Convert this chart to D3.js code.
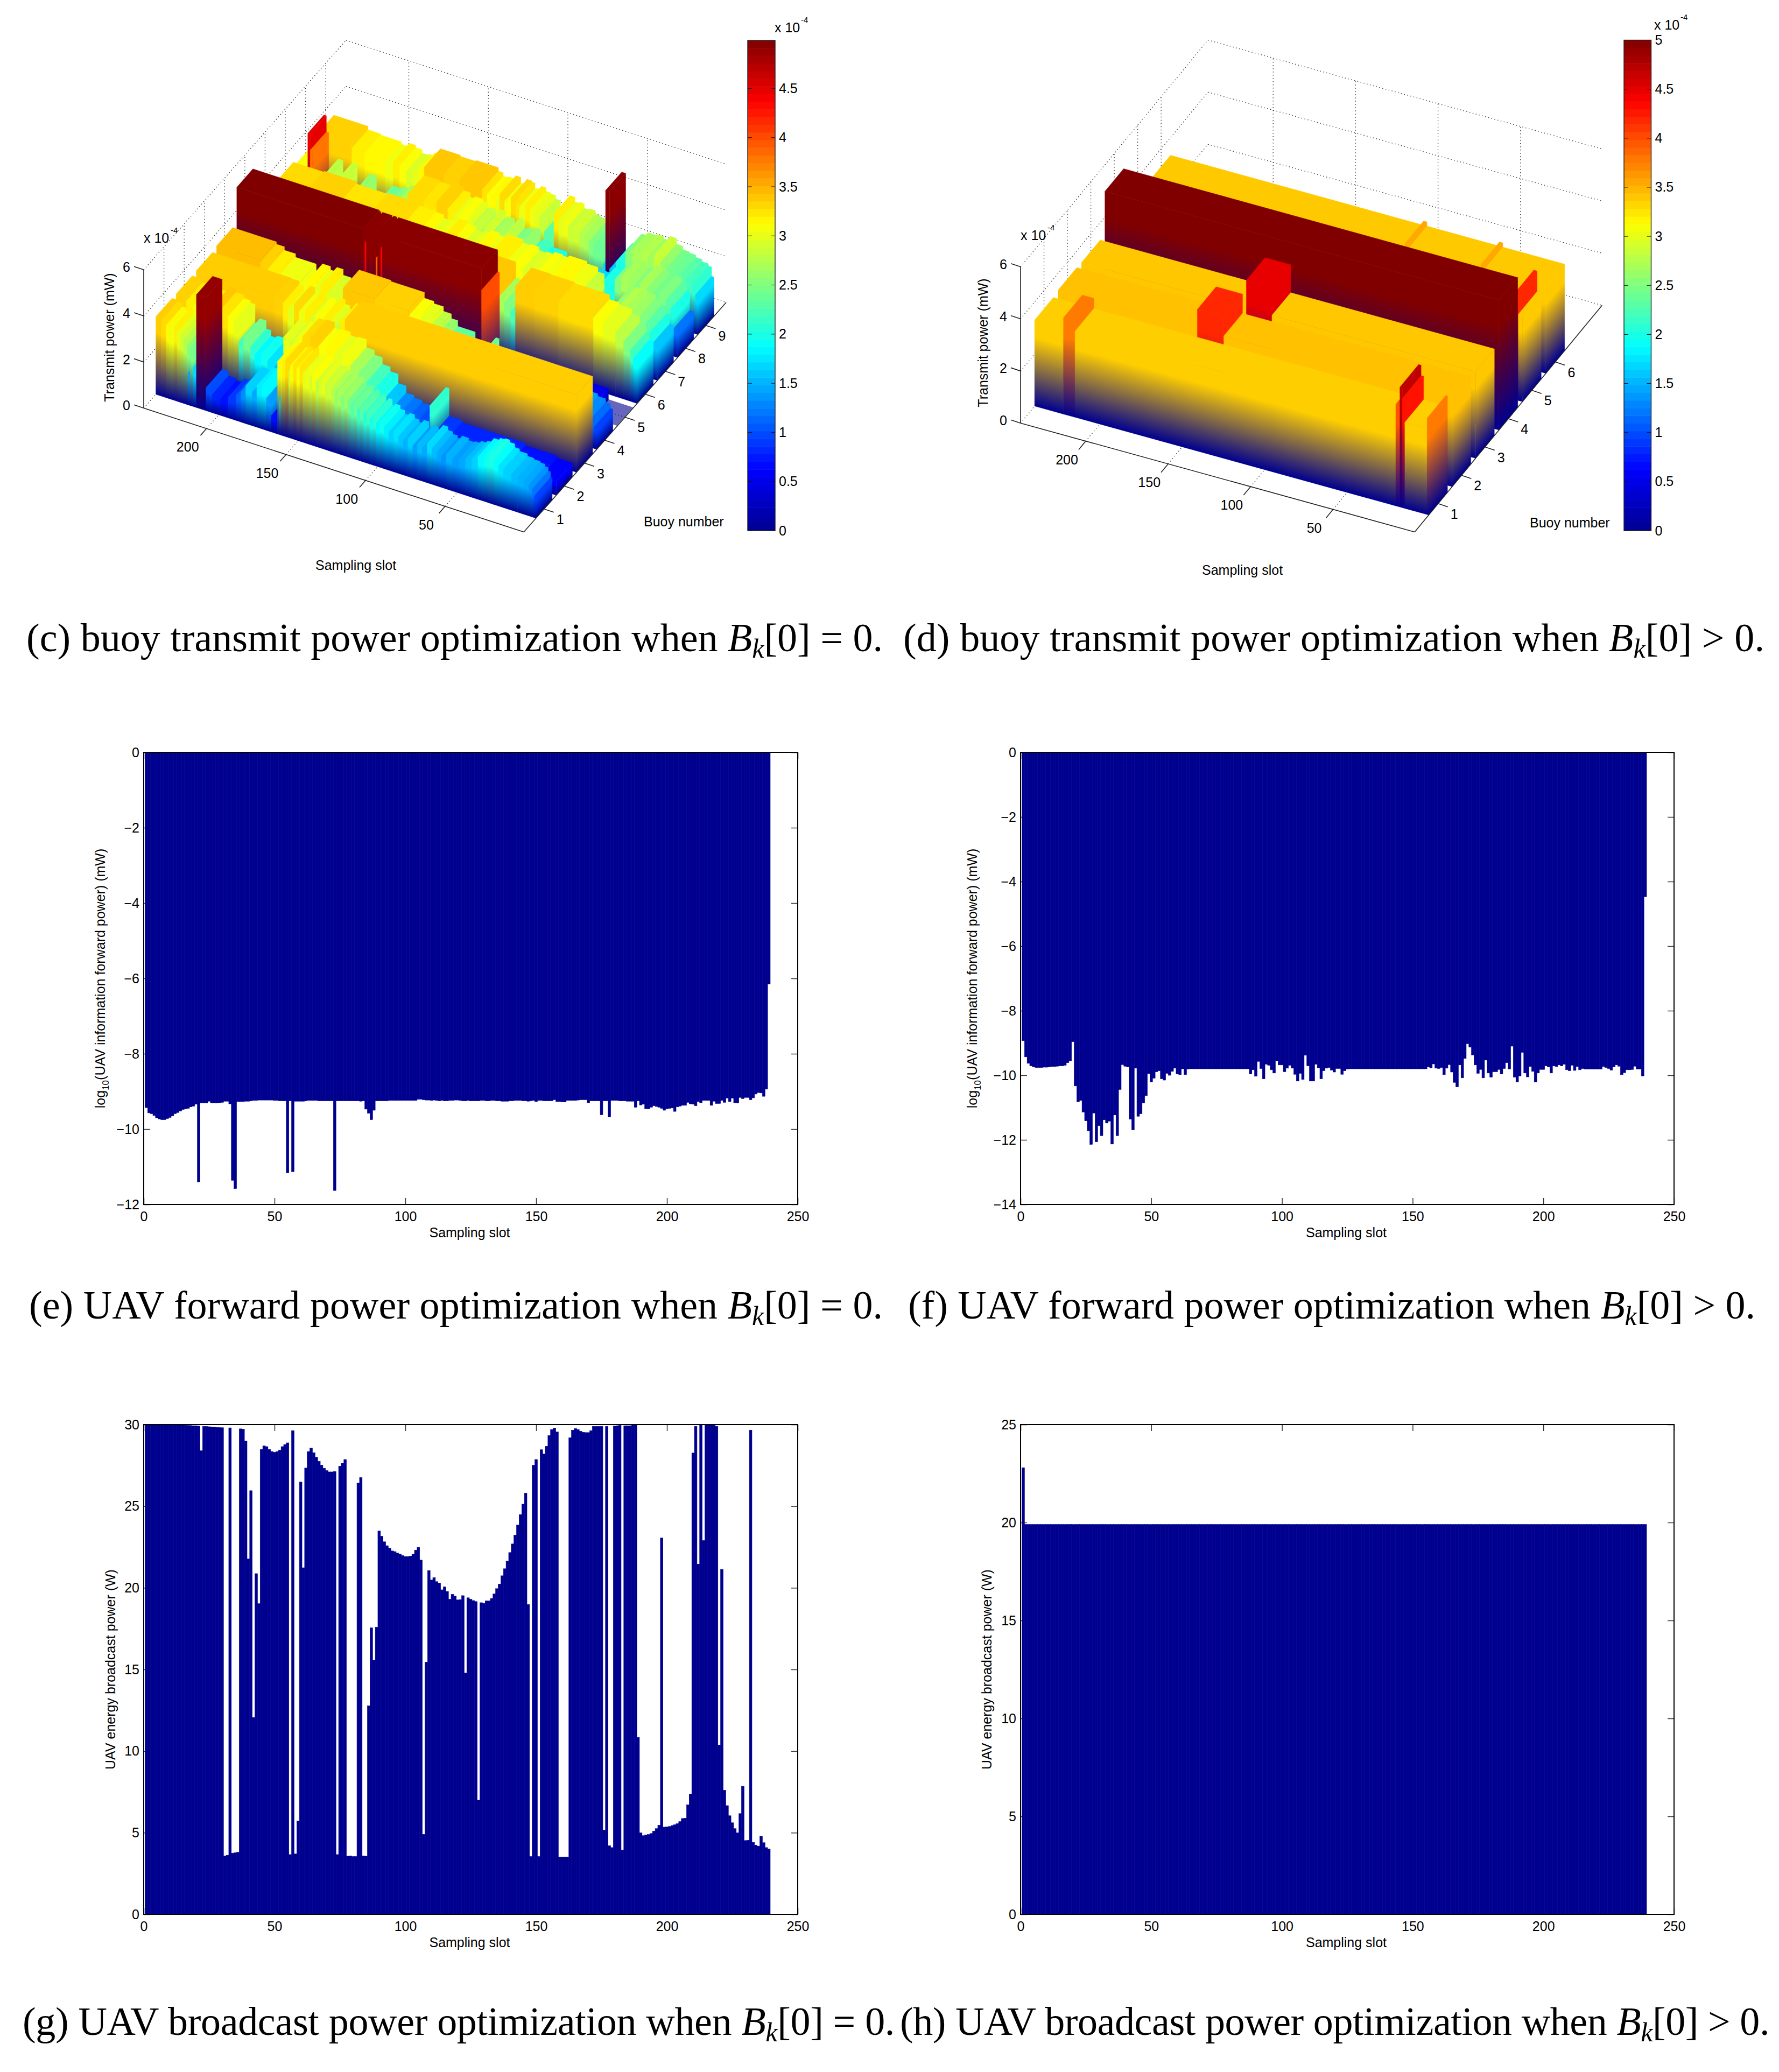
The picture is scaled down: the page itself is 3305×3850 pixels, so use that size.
<!DOCTYPE html>
<html>
<head>
<meta charset="utf-8">
<script src="https://d3js.org/d3.v7.min.js"></script>
<style>
  body { margin: 0; background: #fff; }
  text { font-family: "Liberation Sans", sans-serif; fill: #000; }
</style>
</head>
<body>
<div id="chart"></div>
<script>
// tick labels
const slotTicks = [50, 100, 150, 200]
const barSlotTicks = [0, 50, 100, 150, 200, 250]
const powerTicks3d = [0, 2, 4, 6]
const buoysC = [1, 2, 3, 4, 5, 6, 7, 8, 9]
const buoysD = [1, 2, 3, 4, 5, 6]
const colorbarTicksC = [0, 0.5, 1, 1.5, 2, 2.5, 3, 3.5, 4, 4.5]
const colorbarTicksD = [0, 0.5, 1, 1.5, 2, 2.5, 3, 3.5, 4, 4.5, 5]
const forwardTicksE = [0, -2, -4, -6, -8, -10, -12]
const forwardTicksF = [0, -2, -4, -6, -8, -10, -12, -14]
const broadcastTicksG = [0, 5, 10, 15, 20, 25, 30]
const broadcastTicksH = [0, 5, 10, 15, 20, 25]

const runsC1 = [[239.5,3.37],[236,3.3],[233,3.15],[231,3.05],[228,3.2],[226,3.0],[224,2.9],[222,2.75],[220,2.55],[219,1.4],[218,2.45],[216,1.7],[214,4.9],[208,1.0],[204,0.8],[199,0.7],[194,0.9],[189,1.1],[186,1.3],[183,1.65],[179,1.45],[176,1.8],[173,1.85],[170,1.4],[167,0.7],[163,3.15],[162,1.6],[161,3.05],[160,3.2],[158,3.3],[156,2.9],[155,3.15],[153,3.25],[151,3.1],[149,3.25],[147,3.0],[145,3.05],[143,2.9],[141,3.1],[139,2.8],[137,2.95],[135,3.0],[133,2.85],[131,2.9],[129,2.75],[127,2.6],[125,2.7],[123,2.5],[121,2.65],[119,2.45],[117,2.3],[115,2.4],[113,2.15],[111,2.3],[109,2.05],[107,2.2],[105,1.95],[103,2.1],[101,1.85],[99,1.95],[96,1.8],[93,1.65],[90,1.75],[87,1.6],[84,1.5],[81,1.65],[78,1.4],[75,1.55],[72,1.45],[69,1.7],[66,1.55],[63,1.45],[60,1.35],[57,1.5],[53,1.4],[49,1.45],[45,1.55],[41,1.65],[37,1.85],[33,1.95],[30,2.0],[27,1.9],[24,1.75],[21,1.65],[16,1.55],[12,1.5],[8,1.45],[5,1.35],[3,1.2],[1.5,0.95]]
const runsC2 = [[239.5,3.35],[233,3.2],[229,3.05],[225,3.3],[221,3.15],[216,3.4],[212,3.25],[207,3.1],[203,3.0],[200,2.2],[197,2.45],[193,2.1],[190,1.85],[186,1.95],[182,1.75],[178,1.55],[175,1.9],[172,3.0],[168,2.85],[165,3.05],[160,3.3],[155,3.35],[150,3.1],[145,3.15],[140,3.0],[135,3.05],[130,2.7],[125,2.5],[120,2.2],[115,2.0],[110,1.6],[105,1.3],[100,1.2],[95,1.1],[90,1.0],[85,1.0],[80,2.1],[78,0.9],[70,0.8],[50,0.8],[30,0.7],[10,0.6]]
const runsC3 = [[239.5,3.37],[190,3.35],[185,3.2],[182,3.0],[178,3.3],[175,3.05],[171,3.2],[168,2.9],[165,3.1],[162,2.8],[159,3.2],[156,3.0],[153,2.85],[149,3.2],[146,3.37]]
const runsC4 = [[239.5,3.45],[212,3.35],[207,3.2],[200,3.05],[187,2.2],[183,3.15],[178,3.0],[174,3.2],[170,2.95],[165,2.2],[160,3.4],[140,3.35],[119,3.1],[113,3.0],[107,2.8],[102,2.6],[98,2.35],[87,1.8],[75,1.0],[74,2.4],[72,0.8],[20,1.4],[10,1.3],[5,1.15],[2,0.95]]
const runsC5 = [[239.5,5.0],[160,4.95],[159,4.4],[158,4.95],[152,3.9],[151,4.95],[149,4.4],[148,4.95],[85.6,4.0],[84.5,0.8],[40,0.5],[16,0.03]]
const runsC6 = [[239.5,3.4],[87,2.7],[84,2.5],[80,2.2],[77,3.37],[65,3.35],[50,3.3],[28,3.1],[22,3.0],[14,2.8],[9,2.5],[5,2.2],[3,1.9]]
const runsC7 = [[239.5,3.3],[220,3.35],[200,3.25],[180,3.3],[160,3.2],[150,3.15],[145,3.0],[140,3.05],[135,3.2],[130,3.1],[125,2.95],[120,3.0],[115,3.15],[110,3.05],[105,3.2],[100,3.2],[95,3.05],[90,3.1],[85,2.95],[80,3.0],[75,3.1],[70,3.05],[66,3.15],[62,3.15],[55,3.05],[48,2.85],[44,1.9],[40,1.8],[36,1.7],[32,2.2],[28,2.6],[24,2.75],[20,2.7],[16,2.65],[12,2.5],[8,2.3],[5,2.0],[3,1.6]]
const runsC8 = [[239.5,3.1],[233,4.5],[231.5,3.8],[230,1.5],[224,2.8],[221,1.5],[215,2.85],[212,1.5],[204,2.6],[200,1.5],[190,2.4],[183,2.5],[178,2.7],[172,2.85],[170,3.3],[160,3.25],[152,3.35],[145,3.2],[141,3.0],[138,3.1],[133,3.0],[130,2.8],[128,2.85],[125,2.65],[122,2.9],[119,2.6],[117,2.7],[113,2.5],[110,2.8],[107,2.4],[105,2.5],[102,2.3],[100,2.6],[97,2.1],[95,2.2],[90,2.0],[80,1.7],[70,1.5],[60,1.7],[50,2.0],[40,2.5],[36,2.7],[32,2.65],[28,2.5],[24,2.7],[20,2.55],[16,2.45],[12,2.5],[8,2.3],[5,2.0],[3,1.2]]
const runsC9 = [[239.5,3.35],[218,3.2],[210,3.15],[197,3.05],[192,3.2],[188,3.1],[184,2.95],[180,3.0],[176,3.15],[172.5,3.4],[160,3.35],[150,3.4],[136,3.25],[133,3.1],[130,3.15],[127,3.0],[125,3.3],[122,3.05],[120,3.1],[118,3.3],[115,3.25],[113,3.0],[112,3.05],[109,3.2],[106,3.05],[103,3.0],[100,2.85],[97,2.3],[91,3.2],[88,3.0],[85,3.05],[82,2.85],[79,2.9],[75,2.75],[72,2.7],[69,2.5],[66,2.4],[60,1.7],[58.5,4.95],[56,1.6],[52,2.0],[46,2.55],[42,2.7],[36,2.75],[32,2.65],[28,2.85],[24,2.6],[20,2.45],[16,2.4],[12,2.3],[8,2.2],[4,2.1],[2,1.7]]

// (d)
const runsD1 = [[239.5,3.3],[222,3.7],[215,3.3],[20.5,3.9],[18,4.6],[16.5,4.2],[15,3.3],[1.5,3.7]]
const runsD2 = [[239.5,3.36],[155,4.1],[139,3.36]]
const runsD3 = [[239.5,3.33],[139.5,4.4],[124,3.33]]
const runsD4 = [[239.5,4.98]]
const runsD5 = [[239.5,3.33],[5,4.1],[3,3.31]]
const runsD6 = [[239.5,3.32],[86,3.48],[84,3.32],[40,3.48],[38,3.32]]

// (e) log10 forward power, slots 1..239
const forwardE = [-9.43,-9.57,-9.59,-9.64,-9.70,-9.73,-9.75,-9.75,-9.72,-9.69,-9.65,-9.59,-9.56,-9.52,-9.48,-9.46,-9.45,-9.41,-9.39,-9.34,
-11.40,-9.31,-9.31,-9.31,-9.26,-9.31,-9.31,-9.31,-9.30,-9.29,-9.26,-9.26,-9.33,-11.36,-11.58,-9.27,-9.27,-9.27,-9.26,-9.26,
-9.25,-9.24,-9.24,-9.23,-9.23,-9.23,-9.23,-9.23,-9.23,-9.24,-9.24,-9.25,-9.25,-9.25,-11.16,-9.25,-11.13,-9.26,-9.26,-9.26,
-9.26,-9.25,-9.24,-9.24,-9.24,-9.24,-9.25,-9.25,-9.25,-9.25,-9.25,-9.25,-11.63,-9.25,-9.25,-9.25,-9.25,-9.25,-9.25,-9.25,
-9.25,-9.25,-9.26,-9.25,-9.47,-9.58,-9.75,-9.50,-9.25,-9.25,-9.25,-9.25,-9.25,-9.24,-9.24,-9.24,-9.24,-9.24,-9.24,-9.24,
-9.24,-9.24,-9.24,-9.24,-9.21,-9.21,-9.22,-9.23,-9.23,-9.24,-9.23,-9.24,-9.25,-9.24,-9.25,-9.25,-9.24,-9.24,-9.23,-9.23,
-9.24,-9.25,-9.25,-9.24,-9.25,-9.25,-9.25,-9.25,-9.24,-9.24,-9.25,-9.25,-9.24,-9.24,-9.25,-9.25,-9.26,-9.26,-9.26,-9.25,
-9.25,-9.24,-9.24,-9.24,-9.25,-9.25,-9.26,-9.25,-9.24,-9.27,-9.24,-9.24,-9.25,-9.25,-9.25,-9.25,-9.22,-9.27,-9.27,-9.28,
-9.28,-9.24,-9.24,-9.24,-9.24,-9.23,-9.22,-9.22,-9.22,-9.30,-9.25,-9.25,-9.25,-9.25,-9.62,-9.25,-9.25,-9.68,-9.24,-9.24,
-9.24,-9.25,-9.25,-9.25,-9.26,-9.26,-9.26,-9.42,-9.25,-9.36,-9.34,-9.46,-9.46,-9.42,-9.38,-9.40,-9.42,-9.45,-9.50,-9.46,
-9.45,-9.44,-9.53,-9.41,-9.39,-9.37,-9.37,-9.29,-9.33,-9.34,-9.38,-9.27,-9.30,-9.24,-9.24,-9.24,-9.37,-9.26,-9.32,-9.32,
-9.24,-9.29,-9.18,-9.27,-9.18,-9.30,-9.31,-9.16,-9.19,-9.16,-9.16,-9.22,-9.17,-9.07,-9.03,-9.04,-9.13,-8.94,-6.15]

// (f)
const forwardF = [-8.93,-9.43,-9.63,-9.71,-9.74,-9.76,-9.76,-9.76,-9.75,-9.75,-9.74,-9.73,-9.73,-9.72,-9.71,-9.71,-9.69,-9.61,-9.55,-8.96,
-10.33,-10.82,-10.78,-11.14,-11.41,-11.72,-12.14,-11.17,-12.06,-11.56,-11.87,-11.38,-11.48,-11.42,-12.13,-11.23,-11.87,-10.44,-9.67,-9.72,
-9.74,-11.36,-11.69,-9.78,-11.27,-11.19,-10.86,-10.63,-9.95,-10.21,-10.09,-9.89,-9.86,-10.11,-10.15,-9.94,-10.00,-9.88,-9.78,-9.96,
-9.98,-9.80,-9.98,-9.81,-9.80,-9.80,-9.80,-9.80,-9.80,-9.80,-9.80,-9.80,-9.80,-9.80,-9.80,-9.80,-9.80,-9.80,-9.80,-9.80,
-9.80,-9.80,-9.80,-9.80,-9.80,-9.80,-9.80,-9.96,-9.83,-10.03,-9.57,-9.79,-10.11,-9.66,-9.69,-9.83,-9.93,-9.55,-9.68,-9.68,
-9.89,-9.78,-9.69,-9.78,-9.97,-10.18,-9.94,-10.13,-9.38,-9.71,-10.18,-10.18,-9.66,-9.77,-10.11,-9.86,-9.78,-9.76,-9.84,-9.90,
-9.79,-9.79,-9.97,-9.86,-9.81,-9.80,-9.80,-9.80,-9.80,-9.80,-9.80,-9.80,-9.80,-9.80,-9.80,-9.80,-9.80,-9.80,-9.80,-9.80,
-9.80,-9.80,-9.80,-9.80,-9.80,-9.80,-9.80,-9.80,-9.80,-9.80,-9.80,-9.80,-9.80,-9.80,-9.80,-9.74,-9.77,-9.65,-9.78,-9.79,
-9.76,-9.98,-9.78,-9.67,-9.90,-10.22,-10.36,-9.68,-10.08,-9.48,-9.02,-9.13,-9.37,-9.68,-9.94,-9.82,-10.08,-9.53,-9.93,-10.06,
-9.89,-9.89,-9.82,-9.96,-9.79,-9.61,-9.81,-9.10,-10.06,-10.21,-10.02,-9.29,-9.93,-10.05,-9.73,-9.88,-10.21,-9.93,-9.82,-9.82,
-9.71,-9.74,-9.93,-9.71,-9.73,-9.68,-9.71,-9.66,-9.83,-9.86,-9.69,-9.85,-9.73,-9.83,-9.79,-9.81,-9.81,-9.81,-9.81,-9.81,
-9.81,-9.81,-9.73,-9.76,-9.79,-9.84,-9.74,-9.68,-9.72,-9.98,-9.92,-9.83,-9.83,-9.82,-9.72,-9.81,-9.81,-10.02,-4.47]

// (g)
const broadcastG = [30,30,30,30,30,30,30,30,30,30,30,30,29.99,29.98,29.97,29.96,29.95,29.94,29.93,29.93,
29.91,28.4,29.89,29.88,29.87,29.86,29.85,29.83,29.82,29.81,3.58,3.62,29.8,3.75,3.77,3.8,29.74,29.72,29,21.77,
25.95,12.06,20.87,19.03,28.48,28.7,28.65,28.48,28.35,28.3,28.35,28.43,28.65,28.78,28.88,3.66,29.63,3.7,5.72,26.48,
21.23,27.34,28.35,28.56,28.28,28,27.75,27.51,27.32,27.19,27.1,27.1,27.13,3.66,27.45,27.64,27.86,3.56,3.58,3.54,
3.54,26.42,26.76,3.58,3.56,12.77,17.55,15.58,17.59,23.48,23.16,22.82,22.58,22.43,22.26,22.22,22.13,22.07,21.98,21.92,
21.92,21.94,22.07,22.31,22.48,21.7,4.9,15.45,21.06,20.48,20.63,20.38,20.29,19.88,20.06,19.78,19.3,19.6,19.5,19.26,
19.28,19.52,14.78,19.39,19.3,19.22,19.16,6.99,19.09,19.05,19.2,19.2,19.35,19.63,19.95,20.23,20.74,21.17,21.64,22.16,
22.69,23.23,23.85,24.49,25.13,25.8,18.98,3.54,27.51,27.86,3.54,28.46,28.2,28.67,29.33,29.7,29.78,29.55,3.51,3.51,
3.51,3.51,29.2,29.66,29.76,29.7,29.59,29.53,29.51,29.51,29.63,29.89,29.89,29.89,29.89,5.16,29.89,4.2,4.09,29.91,
29.93,29.96,3.94,29.93,29.93,29.93,30,30,10.84,4.99,4.82,4.86,4.89,4.95,5.1,5.25,5.46,23.06,5.34,5.36,
5.38,5.44,5.49,5.55,5.68,5.87,5.89,6.71,7.37,28.26,29.89,21.45,30,22.9,30,30,30,29.96,29.89,10.37,
21.13,7.6,6.66,6.04,5.61,5.25,4.99,6.17,7.84,4.52,4.54,29.66,4.41,4.24,4.18,4.78,4.39,4.09,4.0]

// (h)
const broadcastH = [22.8,19.9,19.9,19.9,19.9,19.9,19.9,19.9,19.9,19.9,19.9,19.9,19.9,19.9,19.9,19.9,19.9,19.9,19.9,19.9,
19.9,19.9,19.9,19.9,19.9,19.9,19.9,19.9,19.9,19.9,19.9,19.9,19.9,19.9,19.9,19.9,19.9,19.9,19.9,19.9,
19.9,19.9,19.9,19.9,19.9,19.9,19.9,19.9,19.9,19.9,19.9,19.9,19.9,19.9,19.9,19.9,19.9,19.9,19.9,19.9,
19.9,19.9,19.9,19.9,19.9,19.9,19.9,19.9,19.9,19.9,19.9,19.9,19.9,19.9,19.9,19.9,19.9,19.9,19.9,19.9,
19.9,19.9,19.9,19.9,19.9,19.9,19.9,19.9,19.9,19.9,19.9,19.9,19.9,19.9,19.9,19.9,19.9,19.9,19.9,19.9,
19.9,19.9,19.9,19.9,19.9,19.9,19.9,19.9,19.9,19.9,19.9,19.9,19.9,19.9,19.9,19.9,19.9,19.9,19.9,19.9,
19.9,19.9,19.9,19.9,19.9,19.9,19.9,19.9,19.9,19.9,19.9,19.9,19.9,19.9,19.9,19.9,19.9,19.9,19.9,19.9,
19.9,19.9,19.9,19.9,19.9,19.9,19.9,19.9,19.9,19.9,19.9,19.9,19.9,19.9,19.9,19.9,19.9,19.9,19.9,19.9,
19.9,19.9,19.9,19.9,19.9,19.9,19.9,19.9,19.9,19.9,19.9,19.9,19.9,19.9,19.9,19.9,19.9,19.9,19.9,19.9,
19.9,19.9,19.9,19.9,19.9,19.9,19.9,19.9,19.9,19.9,19.9,19.9,19.9,19.9,19.9,19.9,19.9,19.9,19.9,19.9,
19.9,19.9,19.9,19.9,19.9,19.9,19.9,19.9,19.9,19.9,19.9,19.9,19.9,19.9,19.9,19.9,19.9,19.9,19.9,19.9,
19.9,19.9,19.9,19.9,19.9,19.9,19.9,19.9,19.9,19.9,19.9,19.9,19.9,19.9,19.9,19.9,19.9,19.9,19.9]

// captions
const captionTags = ['(c)', '(d)', '(e)', '(f)', '(g)', '(h)']
const captionTexts = [
  'buoy transmit power optimization when ',
  'buoy transmit power optimization when ',
  'UAV forward power optimization when ',
  'UAV forward power optimization when ',
  'UAV broadcast power optimization when ',
  'UAV broadcast power optimization when ',
]
const captionTails = ['[0] = 0.', '[0] > 0.', '[0] = 0.', '[0] > 0.', '[0] = 0.', '[0] > 0.']

const width = 3305
const height = 3850
const navy = '#00008f'
const fontSize = 25

const svg = d3.select('#chart').append('svg')
  .attr('width', width)
  .attr('height', height)
  .style('display', 'block')
const defs = svg.append('defs')

const jet = d3.scaleLinear()
  .domain([0, 0.125, 0.375, 0.625, 0.875, 1])
  .range(['#00008f', '#0000ff', '#00ffff', '#ffff00', '#ff0000', '#800000'])
  .clamp(true)

let gradientId = 0

function faceGradient(top, bottom, edge, color) {
  // isolines follow the face edge, not the screen horizontal
  const len = Math.hypot(edge[0], edge[1])
  const nx = -edge[1] / len
  const ny = edge[0] / len
  const t = (bottom[0] - top[0]) * nx + (bottom[1] - top[1]) * ny
  const id = `g${gradientId++}`
  const grad = defs.append('linearGradient')
    .attr('id', id)
    .attr('gradientUnits', 'userSpaceOnUse')
    .attr('x1', top[0]).attr('y1', top[1])
    .attr('x2', top[0] + nx * t).attr('y2', top[1] + ny * t)
  grad.append('stop').attr('offset', 0).attr('stop-color', color)
  grad.append('stop').attr('offset', 0.2).attr('stop-color', color)
  grad.append('stop').attr('offset', 1).attr('stop-color', navy)
  return `url(#${id})`
}

function make3dPlot(opts) {
  const g = svg.append('g')
  const slotVecX = d3.scaleLinear().domain([0.5, 239.5]).range([0, opts.left[0] - opts.bottom[0]])
  const slotVecY = d3.scaleLinear().domain([0.5, 239.5]).range([0, opts.left[1] - opts.bottom[1]])
  const buoyVecX = d3.scaleLinear().domain([0, opts.buoyMax]).range([0, opts.right[0] - opts.bottom[0]])
  const buoyVecY = d3.scaleLinear().domain([0, opts.buoyMax]).range([0, opts.right[1] - opts.bottom[1]])
  const zVec = d3.scaleLinear().domain([0, 6]).range([0, opts.zHeight])
  const project = (s, b, z) => [
    opts.bottom[0] + slotVecX(s) + buoyVecX(b),
    opts.bottom[1] + slotVecY(s) + buoyVecY(b) - zVec(z),
  ]

  const grid = g.append('g')
    .attr('fill', 'none')
    .attr('stroke', '#333')
    .attr('stroke-width', 1.4)
    .attr('stroke-dasharray', '1.5 4.5')
  const seg = (parent, a, b) => parent.append('line')
    .attr('x1', a[0]).attr('y1', a[1]).attr('x2', b[0]).attr('y2', b[1])

  powerTicks3d.forEach(z => {
    seg(grid, project(239.5, 0, z), project(239.5, opts.buoyMax, z))
    seg(grid, project(239.5, opts.buoyMax, z), project(0.5, opts.buoyMax, z))
  })
  slotTicks.forEach(s => {
    seg(grid, project(s, 0, 0), project(s, opts.buoyMax, 0))
    seg(grid, project(s, opts.buoyMax, 0), project(s, opts.buoyMax, 6))
  })
  opts.buoys.forEach(b => {
    seg(grid, project(0.5, b, 0), project(239.5, b, 0))
    seg(grid, project(239.5, b, 0), project(239.5, b, 6))
  })

  // ribbons back to front, each from the far slot to the near one
  const ribbons = g.append('g')
  opts.runs.slice().reverse().forEach((runs, ri) => {
    const buoy = opts.runs.length - ri
    const b0 = buoy - 0.4
    const b1 = buoy + 0.4
    runs.forEach((run, i) => {
      const hi = run[0]
      const lo = i < runs.length - 1 ? runs[i + 1][0] : 0.5
      const h = run[1]
      const color = jet(h / opts.cMax)
      if (h < 0.1) {
        ribbons.append('polygon')
          .attr('points', [project(hi, b0, h), project(lo, b0, h), project(lo, b1, h), project(hi, b1, h)].join(' '))
          .attr('fill', navy)
          .attr('opacity', 0.6)
        return
      }
      const sideTop = project(lo, b0, h)
      const sideBase = project(lo, b0, 0)
      const sideEdge = [buoyVecX(1), buoyVecY(1)]
      const sideFill = faceGradient(sideTop, sideBase, sideEdge, color)
      ribbons.append('polygon')
        .attr('points', [project(lo, b0, 0), project(lo, b1, 0), project(lo, b1, h), project(lo, b0, h)].join(' '))
        .attr('fill', sideFill)
        .attr('stroke', sideFill)
        .attr('stroke-width', 0.5)
      const frontTop = project(hi, b0, h)
      const frontBase = project(hi, b0, 0)
      const frontEdge = [slotVecX(1.5) - slotVecX(0.5), slotVecY(1.5) - slotVecY(0.5)]
      const frontFill = faceGradient(frontTop, frontBase, frontEdge, color)
      ribbons.append('polygon')
        .attr('points', [project(hi, b0, 0), project(lo, b0, 0), project(lo, b0, h), project(hi, b0, h)].join(' '))
        .attr('fill', frontFill)
        .attr('stroke', frontFill)
        .attr('stroke-width', 0.5)
      ribbons.append('polygon')
        .attr('points', [project(hi, b0, h), project(lo, b0, h), project(lo, b1, h), project(hi, b1, h)].join(' '))
        .attr('fill', color)
        .attr('stroke', color)
        .attr('stroke-width', 0.5)
    })
  })

  // solid box edges and ticks
  const axes = g.append('g').attr('stroke', '#222').attr('stroke-width', 1.6).attr('fill', 'none')
  seg(axes, project(239.5, 0, 0), project(0.5, 0, 0))
  seg(axes, project(0.5, 0, 0), project(0.5, opts.buoyMax, 0))
  seg(axes, project(239.5, 0, 0), project(239.5, 0, 6))
  slotTicks.forEach(s => {
    const p = project(s, 0, 0)
    seg(axes, p, [p[0] + buoyVecX(-0.3), p[1] + buoyVecY(-0.3)])
    g.append('text').attr('x', p[0] - 35).attr('y', p[1] + 43).attr('text-anchor', 'middle')
      .attr('font-size', fontSize).text(s)
  })
  opts.buoys.forEach(b => {
    const p = project(0.5, b, 0)
    seg(axes, p, [p[0] + 18, p[1] + 6])
    g.append('text').attr('x', p[0] + 30).attr('y', p[1] + 28).attr('text-anchor', 'middle')
      .attr('font-size', fontSize).text(b)
  })
  powerTicks3d.forEach(z => {
    const p = project(239.5, 0, z)
    seg(axes, p, [p[0] - 18, p[1] - 6])
    g.append('text').attr('x', p[0] - 25).attr('y', p[1] + 4).attr('text-anchor', 'end')
      .attr('font-size', fontSize).text(z)
  })

  const zTop = project(239.5, 0, 6)
  g.append('text').attr('x', zTop[0]).attr('y', zTop[1] - 50).attr('font-size', fontSize).text('x 10')
  g.append('text').attr('x', zTop[0] + 50).attr('y', zTop[1] - 68).attr('font-size', 15).text('-4')

  g.append('text')
    .attr('transform', `translate(${opts.zLabel[0]},${opts.zLabel[1]}) rotate(-90)`)
    .attr('text-anchor', 'middle').attr('font-size', fontSize).text('Transmit power (mW)')
  g.append('text').attr('x', opts.slotLabel[0]).attr('y', opts.slotLabel[1])
    .attr('font-size', fontSize).text('Sampling slot')
  g.append('text').attr('x', opts.buoyLabel[0]).attr('y', opts.buoyLabel[1])
    .attr('font-size', fontSize).text('Buoy number')

  // colorbar
  const bar = svg.append('g')
  const cy = d3.scaleLinear().domain([0, opts.cTop]).range(opts.barY)
  const bands = d3.range(64)
  bar.selectAll('rect.band').data(bands).join('rect')
    .attr('class', 'band')
    .attr('x', opts.barX[0])
    .attr('width', opts.barX[1] - opts.barX[0])
    .attr('y', d => cy((d + 1) / 64 * opts.cTop))
    .attr('height', d => cy(d / 64 * opts.cTop) - cy((d + 1) / 64 * opts.cTop) + 0.5)
    .attr('fill', d => jet((d + 0.5) / 64))
  const barAxis = d3.axisRight(cy).tickValues(opts.barTicks).tickSize(0).tickPadding(7)
    .tickFormat(d3.format('~g'))
  bar.append('g')
    .attr('transform', `translate(${opts.barX[1]},0)`)
    .call(barAxis)
    .call(a => a.select('.domain').remove())
    .call(a => a.selectAll('text').attr('font-size', fontSize).attr('font-family', 'Liberation Sans').attr('fill', '#000'))
  bar.selectAll('line.inner').data(opts.barTicks).join('line')
    .attr('class', 'inner')
    .attr('x1', opts.barX[0]).attr('x2', opts.barX[0] + 8)
    .attr('y1', d => cy(d)).attr('y2', d => cy(d)).attr('stroke', '#111')
  bar.selectAll('line.inner2').data(opts.barTicks).join('line')
    .attr('class', 'inner2')
    .attr('x1', opts.barX[1] - 8).attr('x2', opts.barX[1])
    .attr('y1', d => cy(d)).attr('y2', d => cy(d)).attr('stroke', '#111')
  bar.append('rect')
    .attr('x', opts.barX[0]).attr('y', opts.barY[1])
    .attr('width', opts.barX[1] - opts.barX[0])
    .attr('height', opts.barY[0] - opts.barY[1])
    .attr('fill', 'none').attr('stroke', '#222').attr('stroke-width', 1.4)
  bar.append('text').attr('x', opts.exp[0]).attr('y', opts.exp[1]).attr('font-size', fontSize).text('x 10')
  bar.append('text').attr('x', opts.exp[0] + 49).attr('y', opts.exp[1] - 18).attr('font-size', 15).text('-4')
}

function makeBarPlot(opts) {
  const g = svg.append('g')
  const x = d3.scaleLinear().domain([0, 250]).range(opts.xRange)
  const y = d3.scaleLinear().domain(opts.yDomain).range(opts.yRange)
  const styleAxis = a => {
    a.select('.domain').remove()
    a.selectAll('line').attr('stroke', '#333').attr('stroke-width', 1.5)
    a.selectAll('text').attr('font-size', fontSize).attr('font-family', 'Liberation Sans').attr('fill', '#000')
  }
  g.append('g').attr('transform', `translate(0,${opts.yRange[0]})`)
    .call(d3.axisBottom(x).tickValues(barSlotTicks).tickSizeInner(-12).tickSizeOuter(0).tickPadding(13))
    .call(styleAxis)
  g.append('g').attr('transform', `translate(0,${opts.yRange[1]})`)
    .call(d3.axisTop(x).tickValues(barSlotTicks).tickSizeInner(-12).tickSizeOuter(0).tickFormat(''))
    .call(styleAxis)
  g.append('g').attr('transform', `translate(${opts.xRange[0]},0)`)
    .call(d3.axisLeft(y).tickValues(opts.yTicks).tickSizeInner(-12).tickSizeOuter(0).tickPadding(8))
    .call(styleAxis)
  g.append('g').attr('transform', `translate(${opts.xRange[1]},0)`)
    .call(d3.axisRight(y).tickValues(opts.yTicks).tickSizeInner(-12).tickSizeOuter(0).tickFormat(''))
    .call(styleAxis)

  const slotWidth = x(1) - x(0)
  g.selectAll('rect.bar').data(opts.values).join('rect')
    .attr('class', 'bar')
    .attr('x', (d, i) => x(i + 0.5))
    .attr('width', slotWidth)
    .attr('y', d => Math.min(y(d), y(0)))
    .attr('height', d => Math.abs(y(d) - y(0)))
    .attr('fill', navy)
    .attr('stroke', navy)
    .attr('stroke-width', 0.6)

  g.append('rect')
    .attr('x', opts.xRange[0]).attr('y', opts.yRange[1])
    .attr('width', opts.xRange[1] - opts.xRange[0])
    .attr('height', opts.yRange[0] - opts.yRange[1])
    .attr('fill', 'none').attr('stroke', '#000').attr('stroke-width', 2)

  g.append('text')
    .attr('x', (opts.xRange[0] + opts.xRange[1]) / 2 - 2)
    .attr('y', opts.yRange[0] + 61)
    .attr('text-anchor', 'middle').attr('font-size', fontSize).text('Sampling slot')

  const yLabel = g.append('text')
    .attr('transform', `translate(${opts.yLabelX},${(opts.yRange[0] + opts.yRange[1]) / 2}) rotate(-90)`)
    .attr('text-anchor', 'middle').attr('font-size', fontSize)
  opts.yLabel.forEach(part => {
    yLabel.append('tspan').attr('font-size', part.sub ? 17 : fontSize)
      .attr('dy', part.sub ? 7 : (part.after ? -7 : 0)).text(part.t)
  })
}

function makeCaption(i, baseline, x0, x1) {
  const t = svg.append('text').attr('x', x0).attr('y', baseline).attr('font-size', 74)
    .style('font-family', '"Liberation Serif", serif')
    .style('white-space', 'pre')
  t.append('tspan').text(captionTags[i] + ' ')
  t.append('tspan').text(captionTexts[i])
  t.append('tspan').attr('font-style', 'italic').text('B')
  t.append('tspan').attr('font-style', 'italic').attr('font-size', 50).attr('dy', 12).text('k')
  t.append('tspan').attr('dy', -12).text(captionTails[i])
  const chars = t.text().length
  const len = t.node().getComputedTextLength()
  t.style('letter-spacing', `${(x1 - x0 - len) / chars}px`)
}

make3dPlot({
  runs: [runsC1, runsC2, runsC3, runsC4, runsC5, runsC6, runsC7, runsC8, runsC9],
  buoys: buoysC, buoyMax: 10,
  left: [267, 758.3], bottom: [973.2, 988.5], right: [1349, 562], zHeight: 257,
  cMax: 5, cTop: 4.99,
  barX: [1389, 1440], barY: [986, 75], barTicks: colorbarTicksC, exp: [1439, 60],
  zLabel: [212, 627], slotLabel: [586, 1059], buoyLabel: [1196, 978],
})
make3dPlot({
  runs: [runsD1, runsD2, runsD3, runsD4, runsD5, runsD6],
  buoys: buoysD, buoyMax: 8,
  left: [1896, 786.2], bottom: [2628.2, 988.5], right: [2976.4, 567.3], zHeight: 290.5,
  cMax: 4.9, cTop: 5,
  barX: [3017, 3067.5], barY: [986, 74.5], barTicks: colorbarTicksD, exp: [3073, 55],
  zLabel: [1835, 637], slotLabel: [2233, 1068], buoyLabel: [2842, 980],
})

const labelE = [{ t: 'log' }, { t: '10', sub: true }, { t: '(UAV information forward power) (mW)', after: true }]
makeBarPlot({
  values: forwardE, xRange: [267, 1482], yRange: [2238, 1398],
  yDomain: [-12, 0], yTicks: forwardTicksE, yLabel: labelE, yLabelX: 195,
})
makeBarPlot({
  values: forwardF, xRange: [1896, 3110], yRange: [2238, 1398],
  yDomain: [-14, 0], yTicks: forwardTicksF, yLabel: labelE, yLabelX: 1815,
})
makeBarPlot({
  values: broadcastG, xRange: [267, 1482], yRange: [3557, 2647],
  yDomain: [0, 30], yTicks: broadcastTicksG, yLabel: [{ t: 'UAV energy broadcast power (W)' }], yLabelX: 214,
})
makeBarPlot({
  values: broadcastH, xRange: [1896, 3110], yRange: [3557, 2647],
  yDomain: [0, 25], yTicks: broadcastTicksH, yLabel: [{ t: 'UAV energy broadcast power (W)' }], yLabelX: 1842,
})

makeCaption(0, 1210, 49, 1640)
makeCaption(1, 1210, 1678, 3278)
makeCaption(2, 2450, 54, 1640)
makeCaption(3, 2450, 1687, 3261)
makeCaption(4, 3781, 42, 1662)
makeCaption(5, 3781, 1672, 3287)
</script>
</body>
</html>
